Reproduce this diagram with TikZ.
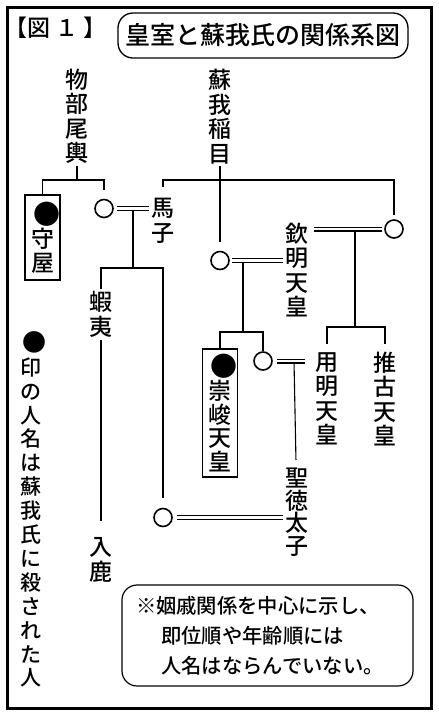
\documentclass[tikz,border=0pt]{standalone}
\usepackage{fontspec}
\setmainfont{Noto Sans CJK JP}[UprightFont={* Medium}]
\usetikzlibrary{positioning}

\newcommand{\bigdot}[1]{\makebox[0pt]{\fontsize{#1}{20}\selectfont\hspace{0.3em}●}}

\begin{document}
\begin{tikzpicture}[
    x=1pt, y=-1pt,
    person/.style={align=center, inner sep=2pt,
        font=\fontsize{23}{24.5}\selectfont},
    killed/.style={person, draw, line width=1.2pt,
        minimum width=35pt, inner ysep=4pt,
        font=\fontsize{23}{23.5}\selectfont},
    mate/.style={circle, draw, line width=1.6pt,
        minimum size=18pt, inner sep=0pt},
    link/.style={line width=1.1pt},
    marriage/.style={double, line width=1.1pt, double distance=2.8pt},
    titlebox/.style={draw, rounded corners=15pt, line width=1.3pt,
        minimum width=290pt, minimum height=45pt,
        font=\fontsize{25}{30}\selectfont},
    remark/.style={draw, rounded corners=15pt, line width=1.2pt,
        align=left, text width=263pt, inner xsep=14pt, minimum height=101pt,
        font=\fontsize{20.3}{30}\selectfont}
]
\useasboundingbox (0,0) rectangle (439,716);
\draw[line width=3pt] (7,7) rectangle (431,708);

% Heading
\node[font=\fontsize{23}{26}\selectfont, anchor=west, inner sep=0pt] (fig) at (4,28)
    {【図\hspace{0.25em}１\hspace{0.2em}】};
\node[titlebox] (title) at (263,35.5) {皇室と蘇我氏の関係系図};

% People
\node[person] (mononobe) at (77,116.5) {物\\部\\尾\\輿};
\node[person] (soga) at (220,116.5) {蘇\\我\\稲\\目};
\node[killed, minimum height=85pt] (moriya) at (42.5,237.5) {\bigdot{27}\\守\\屋};
\node[mate] (umakowife) at (104,208.5) {};
\node[person] (umako) at (163,221) {馬\\子};
\node[mate] (oane) at (220,260.5) {};
\node[person] (kinmei) at (297,270) {欽\\明\\天\\皇};
\node[mate] (kitashi) at (394,229) {};
\node[person] (emishi) at (101,314.5) {蝦\\夷};
\node[person] (iruka) at (101,560) {入\\鹿};
\node[killed, minimum height=128pt] (sushun) at (220,413) {\bigdot{27}\\崇\\峻\\天\\皇};
\node[mate] (hashihito) at (263,361) {};
\node[person] (yomei) at (327,399) {用\\明\\天\\皇};
\node[person] (suiko) at (385,399) {推\\古\\天\\皇};
\node[person, font=\fontsize{23}{22.5}\selectfont] (shotoku) at (297,512) {聖\\徳\\太\\子};
\node[mate] (tojiko) at (163,517.5) {};

% Junctions
\coordinate (jm) at (77,180);
\coordinate (js) at (220,180);
\coordinate (m1) at (133,208.5);
\coordinate (j2) at (133,268);
\coordinate (m2) at (243,260.5);
\coordinate (j3) at (243,332);
\coordinate (m3) at (355,229);
\coordinate (j4) at (355,327);
\coordinate (m4) at (294,361);

% Parents and children
\draw[link] (mononobe) -- (jm);
\draw[link] (moriya.north) |- (jm);
\draw[link, shorten <=9pt] (umakowife.north) |- (jm);
\draw[link] (soga) -- (js);
\draw[link, shorten <=9pt] (umako.north) |- (js);
\draw[link, shorten >=9pt] (js) -- (oane);
\draw[link, shorten <=4pt] (kitashi.north) |- (js);
\draw[link] (m1) -- (j2);
\draw[link] (emishi.north) |- (j2);
\draw[link, shorten <=10pt] (tojiko.north) |- (j2);
\draw[link, shorten >=15pt] (emishi) -- (iruka);
\draw[link] (m2) -- (j3);
\draw[link] (sushun.north) |- (j3);
\draw[link] (hashihito.north) |- (j3);
\draw[link] (m3) -- (j4);
\draw[link, shorten <=6pt] (yomei.north) |- (j4);
\draw[link, shorten <=6pt] (suiko.north) |- (j4);
\draw[link, shorten >=6pt] (m4) -- (shotoku);

% Marriages
\draw[marriage, shorten <=3pt] (umakowife) -- (umakowife -| umako.west);
\draw[marriage, shorten <=2pt] (oane) -- (oane -| kinmei.west);
\draw[marriage, shorten <=2pt, shorten >=3pt] (kitashi) -- (kitashi -| kinmei.east);
\draw[marriage, shorten <=4pt, shorten >=8pt] (hashihito) -- (hashihito -| yomei.west);
\draw[marriage, shorten <=4pt] (tojiko) -- (tojiko -| shotoku.west);

% Notes
\node[person, font=\fontsize{21}{23.9}\selectfont] (legend) at (31,509.5)
    {\bigdot{24}\\印\\の\\人\\名\\は\\蘇\\我\\氏\\に\\殺\\さ\\れ\\た\\人};
\node[remark] (note) at (267.5,635.5) {※姻戚関係を中心に示し、\\
    \hspace*{1.25em}即位順や年齢順には\\
    \hspace*{1.25em}人名はならんでいない。};

\end{tikzpicture}
\end{document}
